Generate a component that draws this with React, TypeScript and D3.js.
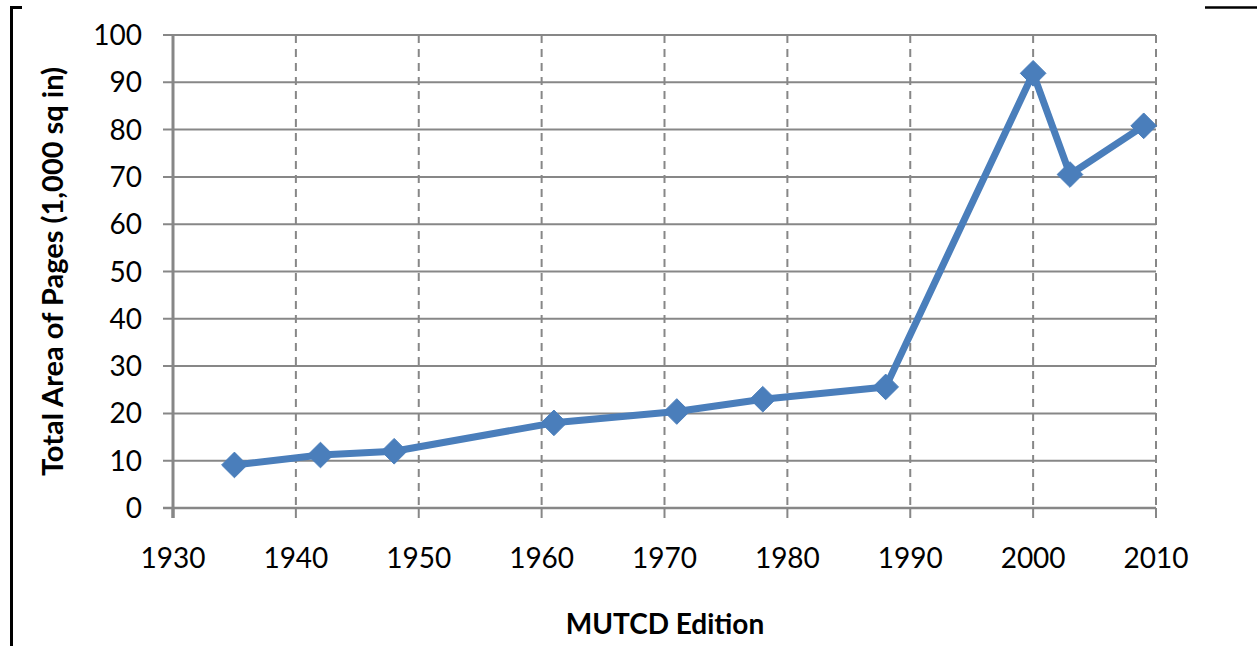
import * as d3 from 'd3';

// MUTCD editions and total page area (1,000 sq in)
const YEARS = [1935, 1942, 1948, 1961, 1971, 1978, 1988, 2000, 2003, 2009];
const AREAS = [9.1, 11.2, 12.0, 18.0, 20.4, 23.0, 25.6, 91.9, 70.5, 80.8];
const X_TICKS = [1930, 1940, 1950, 1960, 1970, 1980, 1990, 2000, 2010];
const Y_TICKS = [0, 10, 20, 30, 40, 50, 60, 70, 80, 90, 100];

const W = 1257;
const H = 646;
const PLOT = { left: 173, right: 1156, top: 35, bottom: 508 };
const FONT = 'Lato, "Open Sans", sans-serif';
const GRID = '#878787';
const BLUE = '#4a7ebb';

export default function App() {
  const x = d3.scaleLinear().domain([1930, 2010]).range([PLOT.left, PLOT.right]);
  const y = d3.scaleLinear().domain([0, 100]).range([PLOT.bottom, PLOT.top]);
  const pts = YEARS.map((yr, i) => ({ yr, v: AREAS[i] }));
  const line = d3.line<{ yr: number; v: number }>().x(d => x(d.yr)).y(d => y(d.v));
  const diamond = d3.symbol().type(d3.symbolDiamond2).size(420)();

  return (
    <svg width={W} height={H} style={{ position: 'absolute', left: 0, top: 0, background: '#fff' }}>
      {/* page frame fragments */}
      <path d="M11.5,646 V7.5 H22" fill="none" stroke="#000" strokeWidth={3} />
      <line x1={1205} x2={1257} y1={7.5} y2={7.5} stroke="#000" strokeWidth={2.5} />

      {/* horizontal gridlines + y ticks */}
      {Y_TICKS.map(t => (
        <g key={t}>
          <line x1={PLOT.left - 10} x2={PLOT.right} y1={y(t)} y2={y(t)} stroke={GRID} strokeWidth={t === 0 ? 2.5 : 2} />
          <text x={PLOT.left - 31} y={y(t)} dy="0.36em" textAnchor="end" fontFamily={FONT} fontSize={28} fill="#000">
            {t}
          </text>
        </g>
      ))}

      {/* vertical dashed gridlines + x ticks */}
      {X_TICKS.map(t => (
        <g key={t}>
          {t !== 1930 && (
            <line x1={x(t)} x2={x(t)} y1={PLOT.top} y2={PLOT.bottom} stroke={GRID} strokeWidth={2} strokeDasharray="8,6" />
          )}
          <line x1={x(t)} x2={x(t)} y1={PLOT.bottom} y2={PLOT.bottom + 10} stroke={GRID} strokeWidth={t === 1930 ? 3 : 2} />
          <text x={x(t)} y={PLOT.bottom + 60} textAnchor="middle" fontFamily={FONT} fontSize={28} fill="#000">
            {t}
          </text>
        </g>
      ))}

      {/* y axis line */}
      <line x1={PLOT.left} x2={PLOT.left} y1={PLOT.top} y2={PLOT.bottom + 10} stroke={GRID} strokeWidth={3} />

      {/* series */}
      <path d={line(pts) ?? ''} fill="none" stroke={BLUE} strokeWidth={7} strokeLinejoin="round" />
      {pts.map(p => (
        <path key={p.yr} d={diamond ?? ''} transform={`translate(${x(p.yr)},${y(p.v)})`} fill={BLUE} stroke={BLUE} strokeWidth={1} />
      ))}

      {/* axis titles */}
      <text x={665} y={634} textAnchor="middle" fontFamily={FONT} fontSize={28} fontWeight="bold" fill="#000">
        MUTCD Edition
      </text>
      <text
        transform={`translate(63,${(PLOT.top + PLOT.bottom) / 2}) rotate(-90)`}
        textAnchor="middle"
        fontFamily={FONT}
        fontSize={29}
        fontWeight="bold"
        fill="#000"
      >
        Total Area of Pages (1,000 sq in)
      </text>
    </svg>
  );
}
